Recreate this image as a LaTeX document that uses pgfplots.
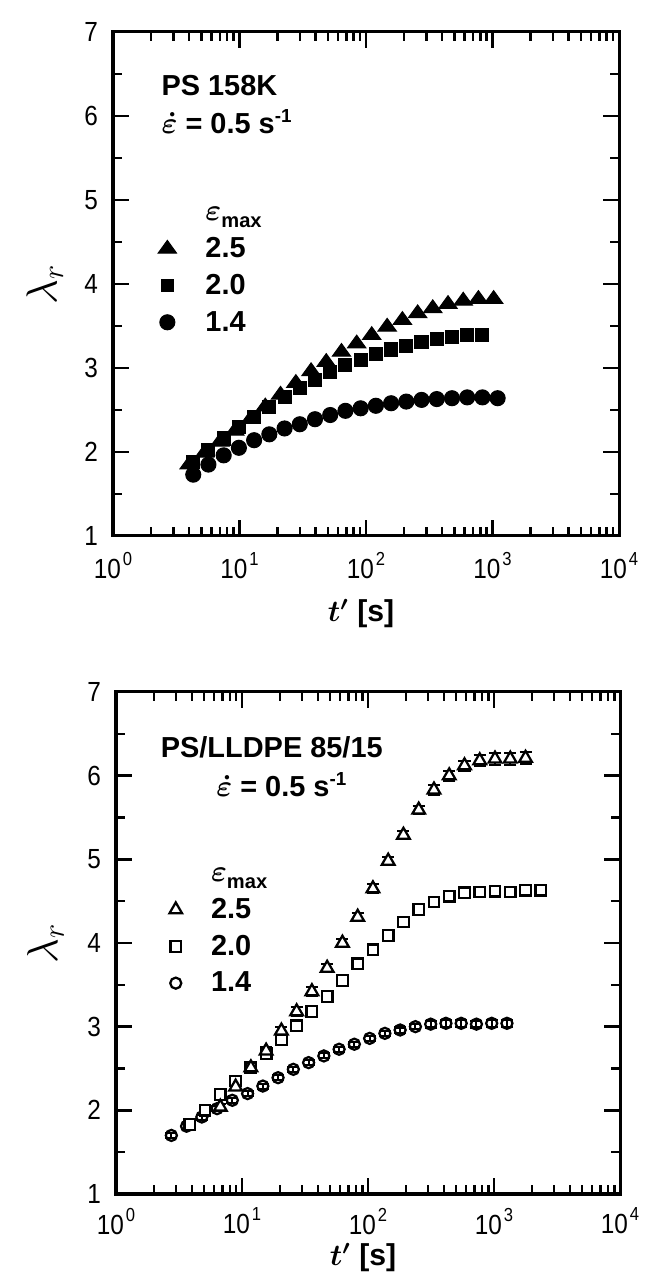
\documentclass[border=0pt]{standalone}
\usepackage{fontspec}
\setmainfont{Liberation Sans}
\newfontfamily\tickfont{Liberation Sans}[FakeStretch=0.88]
\usepackage{pgfplots}
\usepackage{pgfplotstable}
\pgfplotsset{compat=1.18}
\newcommand{\tpow}[1]{10\hspace{0.8pt}\raisebox{5.2pt}{\fontsize{7.5}{8}\selectfont #1}}

% panel a: PS 158K
\pgfplotstableread{
t y
4.0 1.85
5.3 1.99
7.0 2.12
9.2 2.25
12.2 2.39
16.0 2.54
21.1 2.68
27.9 2.82
36.8 2.96
48.5 3.07
64.0 3.19
84.4 3.29
111 3.39
147 3.49
194 3.57
256 3.65
337 3.71
445 3.76
587 3.80
774 3.82
1021 3.82
}\aTri
\pgfplotstableread{
t y
4.31 1.88
5.68 2.02
7.50 2.16
9.89 2.30
13.05 2.42
17.21 2.54
22.71 2.65
29.96 2.76
39.52 2.86
52.14 2.95
68.78 3.03
90.74 3.10
119.7 3.17
157.9 3.22
208.3 3.26
274.8 3.31
362.5 3.34
478.3 3.37
631.0 3.39
832.4 3.39
}\aSqr
\pgfplotstableread{
t y
4.31 1.73
5.68 1.85
7.50 1.96
9.89 2.05
13.05 2.14
17.21 2.21
22.71 2.28
29.96 2.33
39.52 2.39
52.14 2.44
68.78 2.49
90.74 2.52
119.7 2.55
157.9 2.58
208.3 2.60
274.8 2.62
362.5 2.63
478.3 2.64
631.0 2.65
832.4 2.65
1098 2.64
}\aCir

% panel b: PS/LLDPE 85/15
\pgfplotstableread{
t y e
6.73 2.04 0.04
8.90 2.28 0.04
11.76 2.51 0.05
15.54 2.71 0.05
20.54 2.95 0.05
27.14 3.18 0.05
35.87 3.42 0.05
47.40 3.70 0.05
62.65 4.00 0.05
82.79 4.31 0.05
109.4 4.65 0.05
144.6 4.98 0.05
191.1 5.29 0.05
252.6 5.59 0.05
333.8 5.83 0.06
441.1 6.00 0.06
583.0 6.12 0.06
770.4 6.18 0.07
1018 6.20 0.07
1346 6.20 0.07
1779 6.21 0.07
}\bTri
\pgfplotstableread{
t y e
3.85 1.83 0.03
5.09 2.00 0.03
6.73 2.19 0.04
8.90 2.35 0.04
11.76 2.51 0.04
15.54 2.68 0.04
20.54 2.84 0.05
27.14 3.01 0.05
35.87 3.18 0.05
47.40 3.36 0.05
62.65 3.55 0.05
82.79 3.75 0.05
109.4 3.92 0.05
144.6 4.09 0.05
191.1 4.25 0.05
252.6 4.40 0.05
333.8 4.49 0.05
441.1 4.56 0.05
583.0 4.60 0.05
770.4 4.61 0.05
1018 4.62 0.05
1346 4.61 0.06
1779 4.63 0.06
2351 4.63 0.06
}\bSqr
\pgfplotstableread{
t y e
2.75 1.70 0.03
3.63 1.81 0.03
4.80 1.92 0.03
6.34 2.02 0.03
8.38 2.12 0.03
11.07 2.20 0.03
14.63 2.29 0.03
19.33 2.39 0.03
25.55 2.49 0.03
33.77 2.57 0.03
44.62 2.65 0.03
58.96 2.73 0.03
77.93 2.79 0.03
103.0 2.86 0.03
136.1 2.92 0.03
179.9 2.96 0.03
237.8 3.00 0.03
314.3 3.03 0.04
415.3 3.04 0.04
548.9 3.04 0.04
725.4 3.03 0.04
958.7 3.04 0.04
1267 3.04 0.04
}\bCir

\begin{document}
\begin{tikzpicture}
% ---------- panel a ----------
\begin{axis}[
  at={(1.579cm,10.313cm)}, anchor=south west,
  scale only axis, width=7.071cm, height=7.043cm,
  xmode=log, xmin=1, xmax=10000, ymin=1, ymax=7,
  xtick={1,10,100,1000,10000},
  xticklabels={\tpow{0},\tpow{1},\tpow{2},\tpow{3},\tpow{4}},
  minor xtick={2,3,4,5,6,7,8,9,20,30,40,50,60,70,80,90,200,300,400,500,600,700,800,900,2000,3000,4000,5000,6000,7000,8000,9000},
  ytick={1,2,3,4,5,6,7},
  yticklabels={1,2,3,4,5,6,7},
  minor ytick={1.5,2.5,3.5,4.5,5.5,6.5},
  tick align=inside,
  major tick length=6.2pt, minor tick length=3.6pt,
  tick style={black, line width=1pt},
  axis line style={line width=1.2pt},
  xticklabel style={font=\tickfont\fontsize{11}{12}\selectfont, yshift=-3pt},
  yticklabel style={font=\tickfont\fontsize{11}{12}\selectfont, xshift=-2.5pt},
  ylabel={$\lambda_r$},
  ylabel style={font=\fontsize{18}{18}\selectfont, at={(axis description cs:-0.135,0.5)}, anchor=center},
  xlabel={{\boldmath$t'$} \textbf{[s]}},
  xlabel style={font=\fontsize{12}{12}\selectfont, at={(axis description cs:0.49,-0.153)}, anchor=center},
  legend cell align=left,
  legend style={draw=none, fill=none, inner sep=0pt, row sep=3.6pt,
    at={(axis description cs:0.064,0.671)}, anchor=north west,
    font=\bfseries\fontsize{11.5}{12}\selectfont,
    nodes={inner sep=1pt, text height=8pt, text depth=1pt},
    /tikz/every odd column/.append style={column sep=10.5pt}},
]
\addlegendimage{empty legend}
\addlegendentry{{\fontsize{13}{13}\selectfont\boldmath$\varepsilon$}\raisebox{-2.5pt}{\fontsize{8}{8}\selectfont max}}
\addlegendimage{only marks, mark=triangle*, mark size=4.2pt, mark options={yscale=0.8}, black}
\addlegendentry{2.5}
\addlegendimage{only marks, mark=square*, mark size=2.5pt, black}
\addlegendentry{2.0}
\addlegendimage{only marks, mark=*, mark size=3pt, black}
\addlegendentry{1.4}
\addplot[only marks, mark=triangle*, mark size=4.2pt, mark options={yscale=0.8}, black, forget plot] table[x=t,y=y]{\aTri};
\addplot[only marks, mark=square*, mark size=2.6pt, black, forget plot] table[x=t,y=y]{\aSqr};
\addplot[only marks, mark=*, mark size=3pt, black, forget plot] table[x=t,y=y]{\aCir};
\node[anchor=base west, inner sep=0pt, font=\bfseries\fontsize{11.5}{12}\selectfont] at (axis description cs:0.095,0.873) {PS 158K};
\node[anchor=base west, inner sep=0pt, font=\bfseries\fontsize{11.5}{12}\selectfont] at (axis description cs:0.095,0.798) {{\fontsize{13}{13}\selectfont\boldmath$\dot{\varepsilon}$} = 0.5 s\raisebox{4.5pt}{\fontsize{7.5}{8}\selectfont -1}};
\node[anchor=base west, inner sep=0pt, font=\bfseries\fontsize{13}{13}\selectfont] at (axis description cs:-0.2,1.008) {a};
\end{axis}
% ---------- panel b ----------
\begin{axis}[
  at={(1.621cm,1.118cm)}, anchor=south west,
  scale only axis, width=7.043cm, height=7.015cm,
  xmode=log, xmin=1, xmax=10000, ymin=1, ymax=7,
  xtick={1,10,100,1000,10000},
  xticklabels={\tpow{0},\tpow{1},\tpow{2},\tpow{3},\tpow{4}},
  minor xtick={2,3,4,5,6,7,8,9,20,30,40,50,60,70,80,90,200,300,400,500,600,700,800,900,2000,3000,4000,5000,6000,7000,8000,9000},
  ytick={1,2,3,4,5,6,7},
  yticklabels={1,2,3,4,5,6,7},
  minor ytick={1.5,2.5,3.5,4.5,5.5,6.5},
  tick align=inside,
  major tick length=6.2pt, minor tick length=3.6pt,
  tick style={black, line width=1pt},
  axis line style={line width=1.2pt},
  xticklabel style={font=\tickfont\fontsize{11}{12}\selectfont, yshift=-2pt},
  yticklabel style={font=\tickfont\fontsize{11}{12}\selectfont, xshift=-2.5pt},
  ylabel={$\lambda_r$},
  ylabel style={font=\fontsize{18}{18}\selectfont, at={(axis description cs:-0.14,0.5)}, anchor=center},
  xlabel={{\boldmath$t'$} \textbf{[s]}},
  xlabel style={font=\fontsize{12}{12}\selectfont, at={(axis description cs:0.49,-0.127)}, anchor=center},
  legend cell align=left,
  legend style={draw=none, fill=none, inner sep=0pt, row sep=3.6pt,
    at={(axis description cs:0.075,0.668)}, anchor=north west,
    font=\bfseries\fontsize{11.5}{12}\selectfont,
    nodes={inner sep=1pt, text height=8pt, text depth=1pt},
    /tikz/every odd column/.append style={column sep=10.5pt}},
]
\addlegendimage{empty legend}
\addlegendentry{{\fontsize{13}{13}\selectfont\boldmath$\varepsilon$}\raisebox{-2.5pt}{\fontsize{8}{8}\selectfont max}}
\addlegendimage{only marks, mark=triangle, mark size=2.9pt, black, line width=0.9pt}
\addlegendentry{2.5}
\addlegendimage{only marks, mark=square, mark size=2.1pt, black, line width=0.9pt}
\addlegendentry{2.0}
\addlegendimage{only marks, mark=o, mark size=2.2pt, black, line width=0.9pt}
\addlegendentry{1.4}
\addplot[only marks, mark=o, mark size=2.2pt, black, line width=0.9pt, mark options={fill=white}, forget plot,
  error bars/.cd, y dir=both, y explicit, error bar style={line width=0.8pt}, error mark options={rotate=90, mark size=2.4pt, line width=0.8pt}]
  table[x=t,y=y,y error=e]{\bCir};
\addplot[only marks, mark=square*, mark size=2.1pt, black, line width=0.9pt, mark options={fill=white}, forget plot,
  error bars/.cd, y dir=both, y explicit, error bar style={line width=0.8pt}, error mark options={rotate=90, mark size=2.4pt, line width=0.8pt}]
  table[x=t,y=y,y error=e]{\bSqr};
\addplot[only marks, mark=triangle*, mark size=2.9pt, black, line width=0.9pt, mark options={fill=white}, forget plot,
  error bars/.cd, y dir=both, y explicit, error bar style={line width=0.8pt}, error mark options={rotate=90, mark size=2.4pt, line width=0.8pt}]
  table[x=t,y=y,y error=e]{\bTri};
\node[anchor=base west, inner sep=0pt, font=\bfseries\fontsize{11.5}{12}\selectfont] at (axis description cs:0.088,0.869) {PS/LLDPE 85/15};
\node[anchor=base west, inner sep=0pt, font=\bfseries\fontsize{11.5}{12}\selectfont] at (axis description cs:0.198,0.791) {{\fontsize{13}{13}\selectfont\boldmath$\dot{\varepsilon}$} = 0.5 s\raisebox{4.5pt}{\fontsize{7.5}{8}\selectfont -1}};
\node[anchor=base west, inner sep=0pt, font=\bfseries\fontsize{13}{13}\selectfont] at (axis description cs:-0.206,1.020) {b};
\end{axis}
\pgfresetboundingbox
\path[use as bounding box] (0,0) rectangle (9cm,17.803cm);
\end{tikzpicture}
\end{document}
